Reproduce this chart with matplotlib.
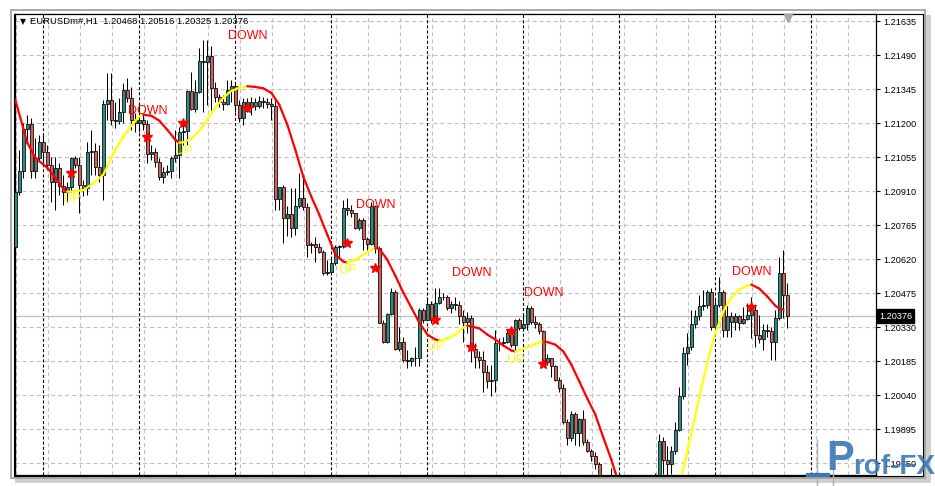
import numpy as np
import matplotlib
matplotlib.use('Agg')
import matplotlib.pyplot as plt
from matplotlib.collections import LineCollection
from matplotlib.patches import Rectangle
import matplotlib.transforms as mtransforms

plt.rcParams['lines.scale_dashes'] = False
plt.rcParams['font.family'] = ['Liberation Sans', 'DejaVu Sans']

# ---------------- data ----------------
symbol = 'EURUSDm#,H1'
first_open = 1.20673

close = [1.20907, 1.20997, 1.21176, 1.21197, 1.20997, 1.21052, 1.21120, 1.21078, 1.21022, 1.20950,
         1.21009, 1.20933, 1.20907, 1.20928, 1.21052, 1.21022, 1.20937, 1.20924, 1.21078, 1.21082,
         1.21014, 1.20980, 1.21282, 1.21299, 1.21214, 1.21210, 1.21248, 1.21342, 1.21308, 1.21214,
         1.21201, 1.21214, 1.21197, 1.21069, 1.21078, 1.21035, 1.20971, 1.20992, 1.20997, 1.21052,
         1.21065, 1.21163, 1.21167, 1.21337, 1.21261, 1.21333, 1.21465, 1.21461, 1.21486, 1.21350,
         1.21312, 1.21291, 1.21282, 1.21342, 1.21359, 1.21278, 1.21222, 1.21291, 1.21269, 1.21291,
         1.21273, 1.21295, 1.21291, 1.21282, 1.21273, 1.20877, 1.20928, 1.20796, 1.20813, 1.20754,
         1.20847, 1.20882, 1.20843, 1.20681, 1.20686, 1.20673, 1.20652, 1.20562, 1.20566, 1.20605,
         1.20673, 1.20677, 1.20839, 1.20830, 1.20818, 1.20754, 1.20788, 1.20707, 1.20686, 1.20847,
         1.20668, 1.20349, 1.20268, 1.20387, 1.20481, 1.20238, 1.20268, 1.20191, 1.20187, 1.20196,
         1.20200, 1.20404, 1.20362, 1.20430, 1.20362, 1.20434, 1.20460, 1.20456, 1.20413, 1.20430,
         1.20426, 1.20375, 1.20353, 1.20370, 1.20238, 1.20204, 1.20191, 1.20140, 1.20098, 1.20106,
         1.20264, 1.20264, 1.20268, 1.20306, 1.20255, 1.20358, 1.20328, 1.20341, 1.20413, 1.20353,
         1.20341, 1.20315, 1.20179, 1.20200, 1.20162, 1.20106, 1.20072, 1.19923, 1.19855, 1.19961,
         1.19876, 1.19936, 1.19838, 1.19800, 1.19778, 1.19744, 1.19693, 1.19646, 1.19616, 1.19638,
         1.19604, 1.19574, 1.19595, 1.19621, 1.19587, 1.19561, 1.19595, 1.19608, 1.19629, 1.19655,
         1.19680, 1.19842, 1.19761, 1.19744, 1.19800, 1.19893, 1.20034, 1.20221, 1.20247, 1.20345,
         1.20375, 1.20421, 1.20426, 1.20481, 1.20332, 1.20426, 1.20481, 1.20319, 1.20379, 1.20353,
         1.20375, 1.20349, 1.20366, 1.20383, 1.20404, 1.20298, 1.20277, 1.20319, 1.20311, 1.20268,
         1.20370, 1.20562, 1.20468, 1.20376]

high = [1.20980, 1.21086, 1.21201, 1.21235, 1.21222, 1.21137, 1.21150, 1.21150, 1.21107, 1.21056,
        1.21056, 1.21031, 1.20980, 1.20950, 1.21056, 1.21060, 1.21056, 1.20958, 1.21120, 1.21171,
        1.21116, 1.21107, 1.21299, 1.21414, 1.21414, 1.21291, 1.21308, 1.21371, 1.21393, 1.21354,
        1.21244, 1.21291, 1.21235, 1.21214, 1.21107, 1.21095, 1.21052, 1.21014, 1.21022, 1.21060,
        1.21171, 1.21184, 1.21193, 1.21342, 1.21418, 1.21384, 1.21521, 1.21555, 1.21555, 1.21529,
        1.21376, 1.21325, 1.21320, 1.21384, 1.21384, 1.21371, 1.21299, 1.21308, 1.21308, 1.21312,
        1.21308, 1.21316, 1.21312, 1.21308, 1.21308, 1.21299, 1.20928, 1.20937, 1.20847, 1.20924,
        1.20924, 1.20988, 1.20980, 1.20860, 1.20694, 1.20715, 1.20690, 1.20660, 1.20617, 1.20630,
        1.20681, 1.20681, 1.20873, 1.20882, 1.20852, 1.20818, 1.20796, 1.20796, 1.20715, 1.20865,
        1.20852, 1.20677, 1.20362, 1.20392, 1.20498, 1.20490, 1.20332, 1.20289, 1.20234, 1.20204,
        1.20247, 1.20413, 1.20413, 1.20460, 1.20439, 1.20498, 1.20498, 1.20477, 1.20468, 1.20439,
        1.20460, 1.20443, 1.20404, 1.20396, 1.20383, 1.20264, 1.20226, 1.20226, 1.20170, 1.20170,
        1.20319, 1.20285, 1.20289, 1.20319, 1.20311, 1.20366, 1.20370, 1.20383, 1.20426, 1.20421,
        1.20375, 1.20353, 1.20319, 1.20213, 1.20200, 1.20170, 1.20119, 1.20085, 1.19936, 1.19970,
        1.19966, 1.19944, 1.19978, 1.19851, 1.19808, 1.19795, 1.19755, 1.19697, 1.19659, 1.19727,
        1.19655, 1.19629, 1.19638, 1.19680, 1.19646, 1.19616, 1.19629, 1.19646, 1.19667, 1.19689,
        1.19706, 1.19872, 1.19863, 1.19821, 1.19821, 1.19927, 1.20076, 1.20247, 1.20306, 1.20404,
        1.20404, 1.20468, 1.20490, 1.20490, 1.20498, 1.20447, 1.20545, 1.20490, 1.20426, 1.20396,
        1.20392, 1.20383, 1.20417, 1.20434, 1.20460, 1.20426, 1.20383, 1.20341, 1.20341, 1.20330,
        1.20404, 1.20630, 1.20660, 1.20516]

low = [1.20668, 1.20894, 1.20967, 1.21129, 1.20967, 1.20967, 1.21035, 1.21022, 1.21001, 1.20865,
       1.20830, 1.20894, 1.20852, 1.20865, 1.20907, 1.21009, 1.20818, 1.20890, 1.20894, 1.20980,
       1.20980, 1.20950, 1.20873, 1.21214, 1.21193, 1.21180, 1.21197, 1.21201, 1.21291, 1.21171,
       1.21163, 1.21163, 1.21171, 1.21031, 1.21043, 1.21014, 1.20958, 1.20945, 1.20980, 1.20967,
       1.21035, 1.20967, 1.21107, 1.21107, 1.21256, 1.21248, 1.21329, 1.21248, 1.21278, 1.21256,
       1.21291, 1.21269, 1.21256, 1.21278, 1.21291, 1.21248, 1.21205, 1.21193, 1.21248, 1.21235,
       1.21256, 1.21265, 1.21265, 1.21265, 1.21214, 1.20830, 1.20830, 1.20690, 1.20720, 1.20715,
       1.20724, 1.20839, 1.20830, 1.20630, 1.20647, 1.20609, 1.20647, 1.20554, 1.20554, 1.20554,
       1.20596, 1.20626, 1.20668, 1.20809, 1.20801, 1.20750, 1.20745, 1.20660, 1.20660, 1.20681,
       1.20647, 1.20349, 1.20264, 1.20264, 1.20383, 1.20234, 1.20226, 1.20183, 1.20157, 1.20162,
       1.20162, 1.20162, 1.20349, 1.20358, 1.20349, 1.20358, 1.20430, 1.20447, 1.20404, 1.20392,
       1.20404, 1.20341, 1.20268, 1.20306, 1.20183, 1.20157, 1.20157, 1.20051, 1.20072, 1.20034,
       1.20055, 1.20226, 1.20251, 1.20264, 1.20243, 1.20234, 1.20319, 1.20319, 1.20319, 1.20345,
       1.20328, 1.20302, 1.20166, 1.20170, 1.20119, 1.20098, 1.20051, 1.19915, 1.19829, 1.19842,
       1.19829, 1.19821, 1.19829, 1.19795, 1.19757, 1.19723, 1.19680, 1.19629, 1.19595, 1.19574,
       1.19561, 1.19544, 1.19552, 1.19578, 1.19552, 1.19531, 1.19544, 1.19569, 1.19595, 1.19616,
       1.19638, 1.19663, 1.19702, 1.19689, 1.19702, 1.19787, 1.19885, 1.20021, 1.20170, 1.20234,
       1.20328, 1.20362, 1.20404, 1.20413, 1.20319, 1.20319, 1.20417, 1.20289, 1.20289, 1.20289,
       1.20319, 1.20319, 1.20341, 1.20358, 1.20285, 1.20247, 1.20264, 1.20234, 1.20289, 1.20191,
       1.20191, 1.20362, 1.20370, 1.20325]

price_ticks = [1.21635, 1.21490, 1.21345, 1.21200, 1.21055, 1.20910, 1.20765,
               1.20620, 1.20475, 1.20330, 1.20185, 1.20040, 1.19895, 1.19750]

# trend indicator line (bar index, value)
line_bars = [0, 3, 5, 8, 10, 12, 13, 15, 17, 19, 22, 25, 27, 29, 31, 32, 34, 36, 38, 40, 41,
             42, 44, 46, 48, 50, 52, 54, 56, 58, 60, 62, 64, 66, 68, 70, 72, 74, 76, 78, 80,
             82, 83, 85, 87, 89, 90, 91, 93, 95, 97, 99, 101, 103, 105, 106, 108, 110, 112,
             113, 114, 116, 118, 120, 122, 124, 125, 127, 129, 131, 132, 133, 135, 137, 139,
             141, 143, 145, 147, 149, 150, 152, 154, 156, 158, 160, 162, 164, 166, 167, 169,
             171, 173, 175, 177, 179, 181, 183, 184, 186, 188, 190, 191, 192]
line_vals = [1.21299, 1.21116, 1.21052, 1.21009, 1.20967, 1.20920, 1.20907, 1.20909, 1.20914,
             1.20937, 1.20980, 1.21086, 1.21141, 1.21188, 1.21229, 1.21235, 1.21231, 1.21210,
             1.21171, 1.21129, 1.21116, 1.21118, 1.21133, 1.21167, 1.21214, 1.21265, 1.21308,
             1.21337, 1.21350, 1.21357, 1.21354, 1.21348, 1.21329, 1.21278, 1.21193, 1.21086,
             1.20971, 1.20886, 1.20809, 1.20724, 1.20639, 1.20609, 1.20605, 1.20617, 1.20639,
             1.20660, 1.20666, 1.20664, 1.20617, 1.20549, 1.20477, 1.20413, 1.20349, 1.20298,
             1.20277, 1.20272, 1.20281, 1.20298, 1.20328, 1.20336, 1.20333, 1.20324, 1.20298,
             1.20277, 1.20251, 1.20230, 1.20226, 1.20238, 1.20251, 1.20264, 1.20268, 1.20266,
             1.20255, 1.20226, 1.20170, 1.20098, 1.20025, 1.19957, 1.19859, 1.19765, 1.19710,
             1.19616, 1.19552, 1.19510, 1.19493, 1.19501, 1.19544, 1.19612, 1.19680, 1.19723,
             1.19876, 1.20030, 1.20179, 1.20306, 1.20396, 1.20456, 1.20490, 1.20507, 1.20511,
             1.20494, 1.20460, 1.20421, 1.20409, 1.20404]

star_bars = [14, 33, 42, 58, 83, 90, 105, 114, 124, 132, 184]
star_vals = [1.20988, 1.21141, 1.21201, 1.21265, 1.20690, 1.20583, 1.20362, 1.20247,
             1.20311, 1.20174, 1.20417]

label_text = ['UP', 'DOWN', 'UP', 'DOWN', 'UP', 'DOWN', 'UP', 'DOWN', 'UP', 'DOWN', 'DOWN']
label_bars = [14, 33, 42, 58, 83, 90, 105, 114, 125, 132, 184]
label_vals = [1.20877, 1.21252, 1.21082, 1.21572, 1.20575, 1.20852, 1.20243, 1.20562,
              1.20191, 1.20477, 1.20566]

# ---------------- figure ----------------
W, H = 935, 486
fig = plt.figure(figsize=(W / 100, H / 100), dpi=100)
fig.patch.set_facecolor('white')

bg = fig.add_axes([0, 0, 1, 1], zorder=0)
bg.set_xlim(0, W)
bg.set_ylim(H, 0)
bg.axis('off')
# window shadow and frame
bg.add_patch(Rectangle((15, 15), 916, 468, facecolor='#d0d0d0', edgecolor='none'))
bg.add_patch(Rectangle((10.5, 10.5), 914, 467, facecolor='white', edgecolor='#9c9c9c', lw=1.2))
bg.add_patch(Rectangle((14, 14), 909, 462, facecolor='white', edgecolor='black', lw=0.8))

ax = fig.add_axes([15 / W, 1 - 475 / H, 861 / W, 461 / H], zorder=2)
ax.set_facecolor('white')
ax.set_xlim(-0.075, 215.175)
ax.set_ylim(1.19699, 1.21665)
for s in ax.spines.values():
    s.set_color('black')
    s.set_linewidth(0.9)

# grid
for p in price_ticks:
    ax.axhline(p, color='#c0c0c0', lw=0.8, ls=(0, (2.9, 2.2)), zorder=0.5)
for i in range(0, 216, 8):
    ax.axvline(i + 0.1, color='#c0c0c0', lw=0.8, ls=(0, (2.9, 2.2)), zorder=0.5)
for i in range(7, 216, 24):
    ax.axvline(i, color='black', lw=0.8, ls=(0, (2.2, 1.5)), zorder=0.6)

# candles
c = np.array(close)
hi = np.array(high)
lo = np.array(low)
o = np.r_[first_open, c[:-1]]
x = np.arange(len(c))

ax.axhline(c[-1], color='#c0c0c0', lw=0.9, zorder=1)
ax.vlines(x, lo, hi, color='black', lw=0.75, zorder=3)
cols = np.where(c >= o, '#2e8b82', '#c8645a')
ax.bar(x, np.abs(c - o), bottom=np.minimum(o, c), width=0.75, color=cols,
       edgecolor='black', linewidth=0.55, zorder=4)

# indicator line, coloured by direction
segs, segc = [], []
for k in range(len(line_bars) - 1):
    segs.append([(line_bars[k], line_vals[k]), (line_bars[k + 1], line_vals[k + 1])])
    segc.append('#ffff00' if line_vals[k + 1] >= line_vals[k] else '#ff0000')
ax.add_collection(LineCollection(segs, colors=segc, linewidths=1.6,
                                 capstyle='round', joinstyle='round', zorder=5))

# signals
ax.plot(star_bars, star_vals, ls='none', marker='*', color='#ff0000', ms=7, zorder=6)
for t, b, v in zip(label_text, label_bars, label_vals):
    ax.text(b, v, t, color='#ff0000' if t == 'DOWN' else '#ffff00', fontsize=9,
            ha='center', va='center', zorder=7)

# price axis
ax.set_xticks([])
ax.yaxis.tick_right()
ax.set_yticks(price_ticks)
ax.set_yticklabels([f'{p:.5f}' for p in price_ticks])
ax.tick_params(axis='y', direction='out', length=3, width=0.8, labelsize=6.6, pad=2,
               colors='black')

trans = mtransforms.blended_transform_factory(ax.transAxes, ax.transData)
ax.text(1.0 + 3 / 861, c[-1], f'{c[-1]:.5f}', transform=trans, color='white', fontsize=6.6,
        ha='left', va='center', zorder=8,
        bbox=dict(boxstyle='square,pad=0.25', fc='black', ec='black'))

# header
fig.text(20 / W, 1 - 21.5 / H, '\u25bc', family=['DejaVu Sans'], fontsize=5.5,
         color='black', va='center', ha='left')
fig.text(30 / W, 1 - 21.5 / H,
         f'{symbol}  {o[-1]:.5f} {hi[-1]:.5f} {lo[-1]:.5f} {c[-1]:.5f}',
         fontsize=6.8, color='black', va='center', ha='left')

# chart shift marker
ax.plot([193.2], [1.2165], marker='v', color='#a8a8a8', ms=6, zorder=8, clip_on=False)

# watermark logo
fg = fig.add_axes([0, 0, 1, 1], zorder=10)
fg.set_xlim(0, W)
fg.set_ylim(H, 0)
fg.axis('off')
fg.plot([817, 817], [440, 486], color='#b0b0b0', lw=1)
fg.plot([833, 833], [440, 486], color='#b0b0b0', lw=1)
fg.plot([808, 828], [475, 475], color='#3b78b4', lw=3)
fg.text(840, 459, 'P', fontsize=30, weight='bold', color='#3b78b4', alpha=0.9,
        ha='center', va='center')
fg.text(853, 467, 'rof-FX', fontsize=20, weight='bold', color='#3b78b4', alpha=0.9,
        ha='left', va='center')

fig.savefig('out.png', dpi=100, facecolor='white')
